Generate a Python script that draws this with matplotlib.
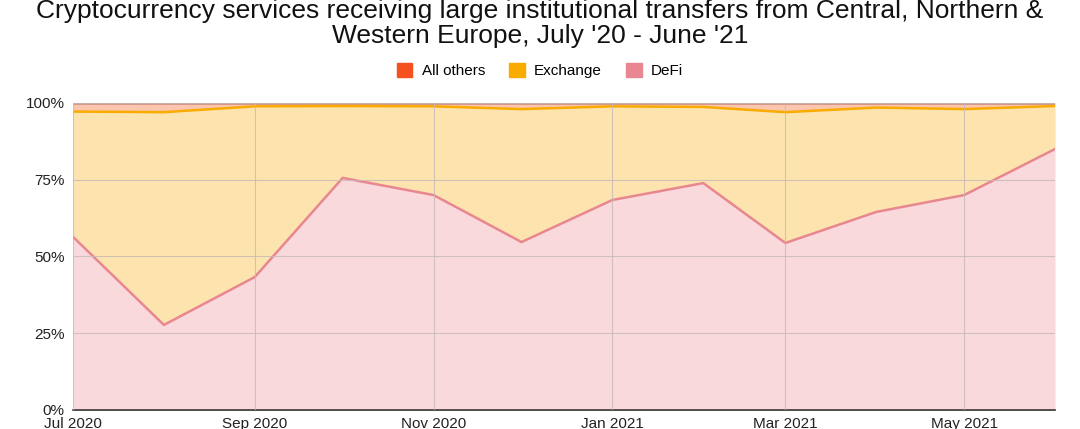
import datetime as dt
import numpy as np
import matplotlib.pyplot as plt
import matplotlib.dates as mdates
from matplotlib.patches import Patch
from matplotlib.ticker import FuncFormatter

plt.rcParams['font.family'] = ['Liberation Sans', 'DejaVu Sans']

months = [dt.date(2020, 7, 1), dt.date(2020, 8, 1), dt.date(2020, 9, 1),
          dt.date(2020, 10, 1), dt.date(2020, 11, 1), dt.date(2020, 12, 1),
          dt.date(2021, 1, 1), dt.date(2021, 2, 1), dt.date(2021, 3, 1),
          dt.date(2021, 4, 1), dt.date(2021, 5, 1), dt.date(2021, 6, 1)]

# shares in percent
defi = [56.4, 27.7, 43.3, 75.6, 70.0, 54.7, 68.4, 73.9, 54.4, 64.5, 70.0, 85.0]
exchange = [40.8, 69.3, 55.6, 23.4, 28.9, 43.3, 30.5, 24.8, 42.6, 34.0, 28.0, 14.0]
all_others = [100 - d - e for d, e in zip(defi, exchange)]

c_defi = '#e8878f'
c_exch = '#f9ab00'
c_other = '#f4511e'

defi_top = np.array(defi)
exch_top = defi_top + np.array(exchange)
other_top = exch_top + np.array(all_others)

fig = plt.figure(figsize=(10.8, 4.29), dpi=100)
ax = fig.add_axes([0.0676, 0.0443, 0.9093, 0.7157])

ax.fill_between(months, 0, defi_top, color='#f9d9dc', lw=0)
ax.fill_between(months, defi_top, exch_top, color='#fde4ae', lw=0)
ax.fill_between(months, exch_top, other_top, color='#fbc6ad', lw=0)

ax.plot(months, other_top, color='#c98a7a', lw=1.8)
ax.plot(months, exch_top, color=c_exch, lw=1.8)
ax.plot(months, defi_top, color=c_defi, lw=1.8)

ax.set_xlim(months[0], months[-1])
ax.set_ylim(0, 100)
ax.set_yticks([0, 25, 50, 75, 100])
ax.yaxis.set_major_formatter(FuncFormatter(lambda v, p: '%d%%' % v))
ax.xaxis.set_major_locator(mdates.MonthLocator(bymonth=[1, 3, 5, 7, 9, 11]))
ax.xaxis.set_major_formatter(mdates.DateFormatter('%b %Y'))
ax.grid(True, color='#c8b8b8', lw=0.8, alpha=0.8)
ax.set_axisbelow(False)
for s in ['top', 'right', 'left']:
    ax.spines[s].set_visible(False)
ax.spines['bottom'].set_color('#333333')
ax.spines['bottom'].set_linewidth(1.2)
ax.tick_params(length=0, labelsize=11, colors='#222222', pad=5)
ax.tick_params(axis='y', pad=6)

fig.text(0.5, 0.945, "Cryptocurrency services receiving large institutional transfers from Central, Northern &\nWestern Europe, July '20 - June '21",
         ha='center', va='center', fontsize=19, linespacing=1.05, color='#111111')

handles = [Patch(color=c_other), Patch(color=c_exch), Patch(color=c_defi)]
fig.legend(handles, ['All others', 'Exchange', 'DeFi'], loc='center',
           bbox_to_anchor=(0.5, 0.835), ncol=3, frameon=False, fontsize=11,
           handlelength=1.0, handleheight=1.0, columnspacing=1.6, handletextpad=0.6)

plt.savefig('out.png', dpi=100)
